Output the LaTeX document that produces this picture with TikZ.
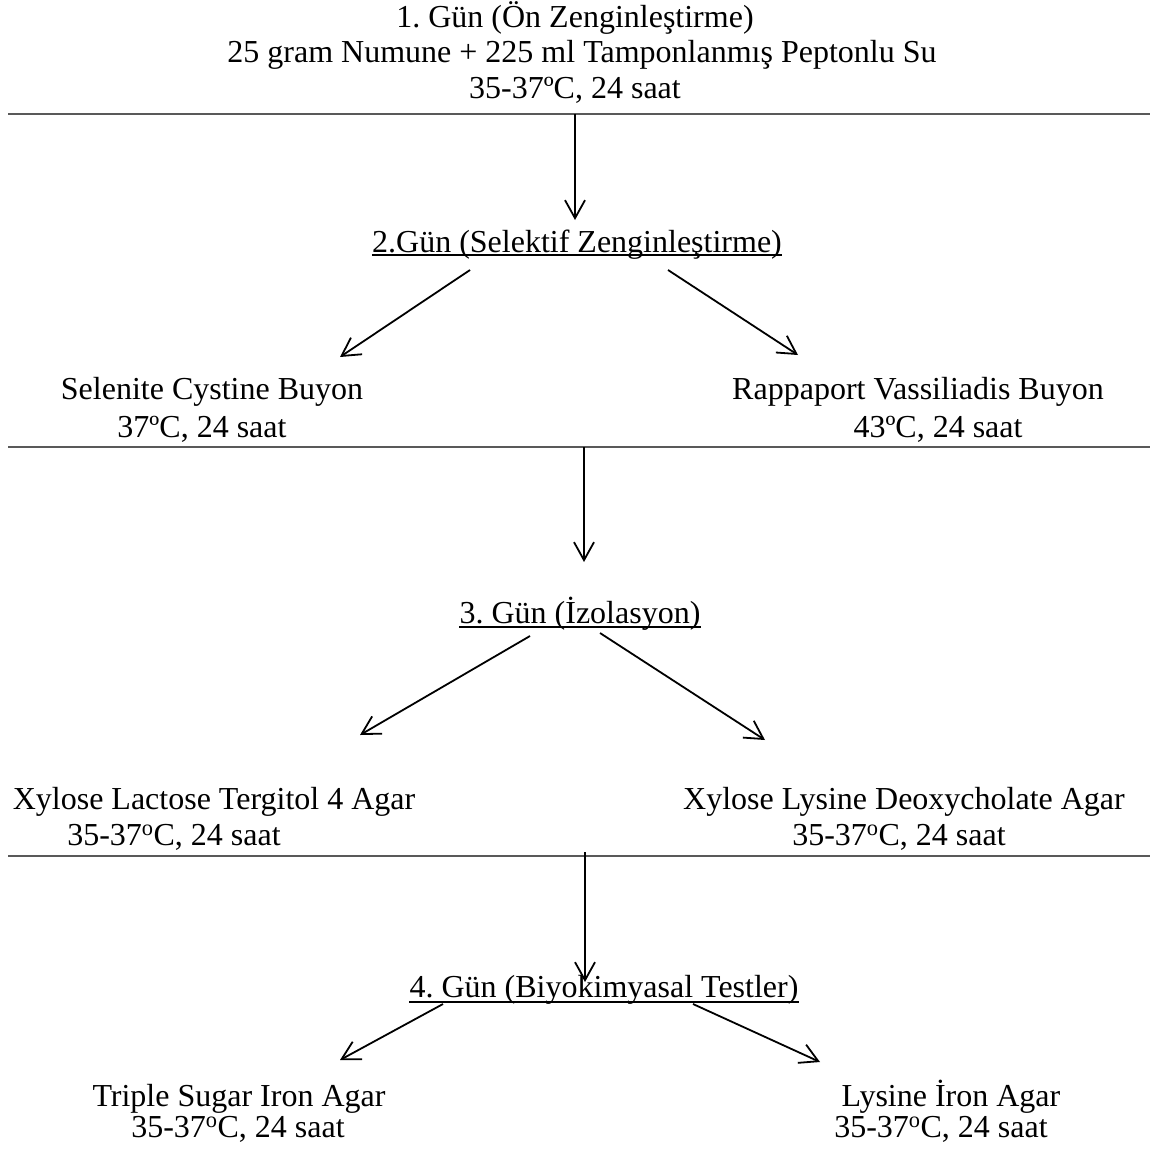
\documentclass[tikz,border=0pt]{standalone}
\usepackage{fontspec}
\setmainfont{Liberation Serif}
\usetikzlibrary{arrows.meta,calc}
\begin{document}
\frenchspacing
\begin{tikzpicture}[x=1pt,y=-1pt,
 txt/.style={inner sep=0pt,anchor=base,font=\fontsize{32}{36}\selectfont},
 arr/.style={line width=1.8pt,-{Straight Barb[length=18pt,width=20pt,line width=1.8pt]}},
 rulestyle/.style={line width=1.6pt,draw=black!65},
 uline/.style={line width=2.2pt}]
\useasboundingbox (0,0) rectangle (1155,1153);
% Day 1
\node[txt] (t1a) at (575,28) {1. Gün (Ön Zenginleştirme)};
\node[txt] (t1b) at (582,63) {25 gram Numune + 225 ml Tamponlanmış Peptonlu Su};
\node[txt] (t1c) at (575,99) {35-37ºC, 24 saat};
\coordinate (r1l) at (8,114); \coordinate (r1r) at (1150,114);
\draw[rulestyle] (r1l) -- (r1r);
% Day 2
\node[txt] (h2) at (577,252) {2.Gün (Selektif Zenginleştirme)};
\draw[uline] ([yshift=-3pt]h2.base west) -- ([yshift=-3pt]h2.base east);
\coordinate (r1m) at (575,114); \coordinate (h2top) at (575,220);
\draw[arr] (r1m) -- (h2top);
\node[txt] (s1) at (212,399) {Selenite Cystine Buyon};
\node[txt] (s2) at (202,437) {37ºC, 24 saat};
\node[txt] (v1) at (918,399) {Rappaport Vassiliadis Buyon};
\node[txt] (v2) at (938,437) {43ºC, 24 saat};
\coordinate (a2ls) at (470,270); \coordinate (a2le) at (340,357);
\coordinate (a2rs) at (668,270); \coordinate (a2re) at (798,355);
\draw[arr] (a2ls) -- (a2le);
\draw[arr] (a2rs) -- (a2re);
\coordinate (r2l) at (8,447); \coordinate (r2r) at (1150,447);
\draw[rulestyle] (r2l) -- (r2r);
% Day 3
\node[txt] (h3) at (580,623) {3. Gün (İzolasyon)};
\draw[uline] ([yshift=-4pt]h3.base west) -- ([yshift=-4pt]h3.base east);
\coordinate (r2m) at (584,447); \coordinate (h3top) at (584,562);
\draw[arr] (r2m) -- (h3top);
\node[txt] (x1) at (214,809) {Xylose Lactose Tergitol 4 Agar};
\node[txt] (x2) at (174,845) {35-37\textsuperscript{o}C, 24 saat};
\node[txt] (x3) at (904,809) {Xylose Lysine Deoxycholate Agar};
\node[txt] (x4) at (899,845) {35-37\textsuperscript{o}C, 24 saat};
\coordinate (a3ls) at (530,636); \coordinate (a3le) at (360,735);
\coordinate (a3rs) at (600,633); \coordinate (a3re) at (765,740);
\draw[arr] (a3ls) -- (a3le);
\draw[arr] (a3rs) -- (a3re);
\coordinate (r3l) at (8,856); \coordinate (r3r) at (1150,856);
\draw[rulestyle] (r3l) -- (r3r);
% Day 4
\node[txt] (h4) at (604,997) {4. Gün (Biyokimyasal Testler)};
\draw[uline] ([yshift=-5pt]h4.base west) -- ([yshift=-5pt]h4.base east);
\coordinate (r3m) at (585,852); \coordinate (h4top) at (585,982);
\draw[arr] (r3m) -- (h4top);
\node[txt] (g1) at (239,1106) {Triple Sugar Iron Agar};
\node[txt] (g2) at (238,1137) {35-37\textsuperscript{o}C, 24 saat};
\node[txt] (l1) at (951,1106) {Lysine İron Agar};
\node[txt] (l2) at (941,1137) {35-37\textsuperscript{o}C, 24 saat};
\coordinate (a4ls) at (443,1004); \coordinate (a4le) at (340,1060);
\coordinate (a4rs) at (693,1004); \coordinate (a4re) at (820,1062);
\draw[arr] (a4ls) -- (a4le);
\draw[arr] (a4rs) -- (a4re);
\end{tikzpicture}
\end{document}
